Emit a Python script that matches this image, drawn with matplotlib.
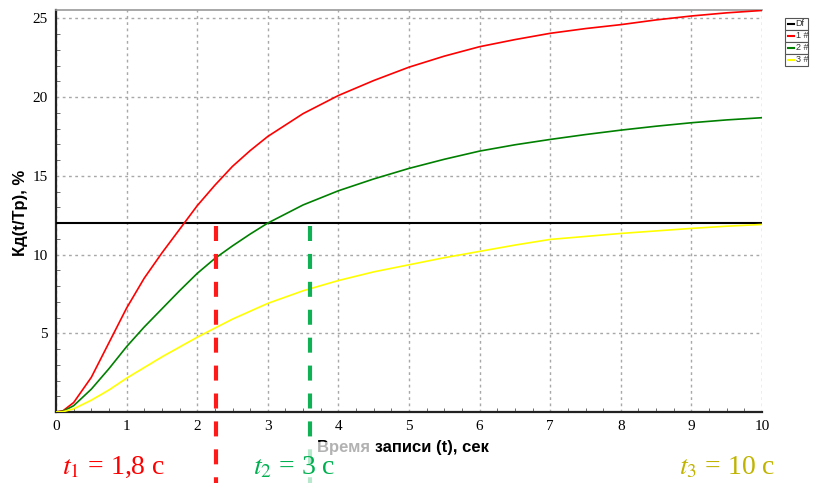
import matplotlib
matplotlib.use("Agg")
import matplotlib.pyplot as plt
from matplotlib.patches import Rectangle
from matplotlib.lines import Line2D

# ---- data ----
t_red = [0, 0.1, 0.25, 0.5, 0.75, 1.0, 1.25, 1.5, 1.75, 2.0, 2.25, 2.5, 2.75, 3.0, 3.5, 4.0, 4.5, 5.0, 5.5, 6.0, 6.5, 7.0, 7.5, 8.0, 8.5, 9.0, 9.5, 10.0]
y_red = [0, 0.08, 0.6, 2.2, 4.4, 6.6, 8.5, 10.1, 11.6, 13.1, 14.4, 15.6, 16.6, 17.5, 18.95, 20.1, 21.05, 21.9, 22.6, 23.2, 23.65, 24.05, 24.35, 24.6, 24.9, 25.15, 25.35, 25.5]

t_green = [0, 0.1, 0.25, 0.5, 0.75, 1.0, 1.25, 1.5, 1.75, 2.0, 2.25, 2.5, 2.75, 3.0, 3.5, 4.0, 4.5, 5.0, 5.5, 6.0, 6.5, 7.0, 7.5, 8.0, 8.5, 9.0, 9.5, 10.0]
y_green = [0, 0.05, 0.4, 1.45, 2.75, 4.15, 5.4, 6.55, 7.7, 8.8, 9.75, 10.55, 11.3, 12.0, 13.15, 14.05, 14.8, 15.47, 16.05, 16.57, 16.97, 17.31, 17.62, 17.9, 18.15, 18.37, 18.55, 18.69]

t_yellow = [0, 0.1, 0.25, 0.5, 0.75, 1.0, 1.5, 2.0, 2.5, 3.0, 3.5, 4.0, 4.5, 5.0, 5.5, 6.0, 6.5, 7.0, 7.5, 8.0, 8.5, 9.0, 9.5, 10.0]
y_yellow = [0, 0.02, 0.2, 0.75, 1.4, 2.15, 3.5, 4.75, 5.9, 6.9, 7.7, 8.35, 8.9, 9.35, 9.8, 10.2, 10.6, 10.96, 11.15, 11.34, 11.5, 11.66, 11.8, 11.91]

df_level = 12
t1_mark = 2.27
t2_mark = 3.6

legend_labels = ["Df", "1 #", "2 #", "3 #"]
annot_texts = [r"$t_1$ = 1,8 с", r"$t_2$ = 3 с", r"$t_3$ = 10 с"]

# ---- figure ----
W, H = 813, 483
plt.rcParams['mathtext.fontset'] = 'stix'
fig = plt.figure(figsize=(W / 100, H / 100), dpi=100)


def fx(px):
    return px / W


def fy(py):
    return 1 - py / H


ax = fig.add_axes([fx(56), fy(412), fx(762) - fx(56), fy(10) - fy(412)])

c_red = '#ff0000'
c_green = '#008000'
c_yellow = '#ffff00'

ax.axhline(df_level, color='black', lw=1.5, zorder=3)
ax.plot(t_red, y_red, color=c_red, lw=1.2, zorder=4)
ax.plot(t_green, y_green, color=c_green, lw=1.2, zorder=4)
ax.plot(t_yellow, y_yellow, color=c_yellow, lw=1.2, zorder=4)

ax.set_xlim(0, 10)
ax.set_ylim(0, 25.53)
ax.set_xticks(range(0, 11))
ax.set_yticks([5, 10, 15, 20, 25])
ax.set_xticks([i * 0.25 for i in range(41)], minor=True)
ax.set_yticks(list(range(0, 26)), minor=True)
ax.tick_params(which='major', direction='in', length=0, labelsize=11, pad=6)
ax.tick_params(which='minor', direction='in', length=3, color='#555555')
for lab in ax.get_xticklabels() + ax.get_yticklabels():
    lab.set_fontfamily('Liberation Serif')

ax.grid(True, which='major', color='#a8a8a8', ls=(0, (2, 2.5)), lw=1)
for s in ['left', 'bottom']:
    ax.spines[s].set_color('#222222')
    ax.spines[s].set_linewidth(1.6)
ax.spines['top'].set_color('#999999')
ax.spines['top'].set_linewidth(1.2)
ax.spines['right'].set_visible(False)

# dashed markers extending below the axes
y_bottom = -(H - 412) / ((412 - 10) / 25.53)
ax.plot([t1_mark, t1_mark], [11.8, y_bottom], color='#ff1a1a', lw=3,
        ls=(0, (3.6, 3.1)), clip_on=False, zorder=5)
ax.plot([t2_mark, t2_mark], [11.8, y_bottom], color='#10b055', lw=3,
        ls=(0, (3.6, 3.1)), clip_on=False, zorder=5)

# axis labels
fig.text(fx(21), fy(213), "Кд(t/Tp), %", rotation=90, ha='center', va='center',
         fontsize=12, fontweight='bold', family='Liberation Sans')
fig.text(fx(317), fy(452), "Время записи (t), сек", ha='left', va='baseline', fontsize=12,
         fontweight='bold', family='Liberation Sans', color='black', zorder=2)

# translucent overlay as in reference (lightens "Время" and part of the green marker)
fig.add_artist(Rectangle((fx(228), 0), fx(376) - fx(228), fy(442), transform=fig.transFigure,
                         facecolor='white', alpha=0.7, edgecolor='none', zorder=6))

# annotations
annot_x = [62, 253, 679]
annot_c = ['#ff0000', '#00b050', '#c0b400']
for txt, xp, c in zip(annot_texts, annot_x, annot_c):
    fig.text(fx(xp), fy(474), txt, ha='left', va='baseline', fontsize=20,
             color=c, family='Liberation Serif', zorder=8)

# legend (separate small boxes)
leg_colors = ['black', c_red, c_green, c_yellow]
row_tops = [18, 30, 42, 54]
for lab, col, top in zip(legend_labels, leg_colors, row_tops):
    fig.add_artist(Rectangle((fx(785), fy(top + 11.5)), fx(808) - fx(785), fy(top) - fy(top + 11.5),
                             transform=fig.transFigure, facecolor='white', edgecolor='#555555', lw=0.8))
    fig.add_artist(Line2D([fx(788), fx(794)], [fy(top + 6), fy(top + 6)], transform=fig.transFigure,
                          color=col, lw=1.5))
    fig.text(fx(795.5), fy(top + 6), lab, ha='left', va='center', fontsize=6.5,
             family='Liberation Sans', color='#333333')

fig.savefig("out.png", dpi=100)
